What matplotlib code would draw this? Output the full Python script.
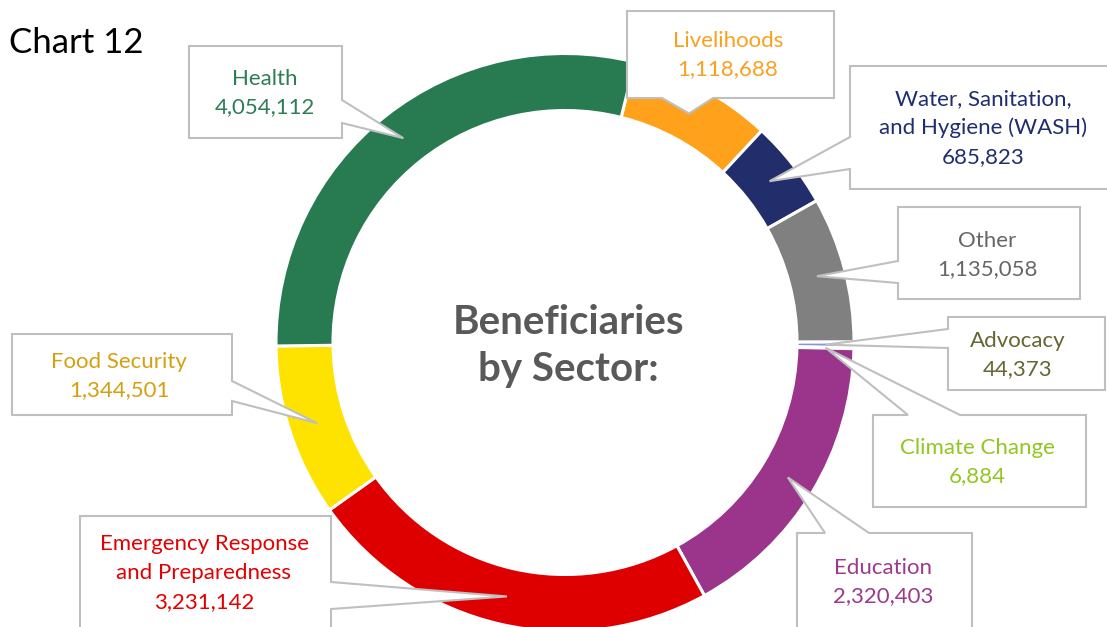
import matplotlib.pyplot as plt
from matplotlib.patches import Polygon
import numpy as np

plt.rcParams["font.family"] = ["Lato", "DejaVu Sans"]

W, H = 1107, 627

# data, in chart order (clockwise)
sectors = ["Livelihoods", "Water, Sanitation,\nand Hygiene (WASH)", "Other", "Advocacy",
           "Climate Change", "Education", "Emergency Response\nand Preparedness",
           "Food Security", "Health"]
beneficiaries = [1118688, 685823, 1135058, 44373, 6884, 2320403, 3231142, 1344501, 4054112]
slice_colors = ["#FFA11A", "#212E6B", "#808080", "#8496D8", "#C6E0B4",
                "#9B358B", "#DE0000", "#FFE300", "#287B51"]
label_colors = ["#F7A11E", "#1F2E6E", "#666666", "#666633", "#92C621",
                "#9B3A8D", "#E30000", "#D4A011", "#2E7D55"]

# callout boxes in pixels (y down): x0, x1, y0, y1, side of pointer, pointer base a, b
boxes = [
    (627, 834, 11, 98, "bottom", 662, 713),
    (850, 1115, 66, 189, "left", 137, 169),
    (898, 1080, 207, 299, "left", 261, 283),
    (948, 1105, 317, 390, "left", 329, 348),
    (873, 1086, 415, 507, "top", 908, 960),
    (797, 972, 533, 640, "top", 825, 869),
    (80, 331, 516, 640, "right", 582, 609),
    (12, 232, 334, 415, "right", 381, 401),
    (189, 342, 46, 138, "right", 100, 123),
]
text_pos = [(728, 55), (983, 128), (987, 255), (1018, 355), (977, 462),
            (883, 582), (204, 573), (119, 376), (265, 93)]

cx, cy = 565, 342.5
R_OUT, RING = 289, 57


def callout_points(x0, x1, y0, y1, side, a, b, tip):
    if side == "right":
        return [(x0, y0), (x1, y0), (x1, a), tip, (x1, b), (x1, y1), (x0, y1)]
    if side == "left":
        return [(x0, y0), (x1, y0), (x1, y1), (x0, y1), (x0, b), tip, (x0, a)]
    if side == "top":
        return [(x0, y0), (a, y0), tip, (b, y0), (x1, y0), (x1, y1), (x0, y1)]
    return [(x0, y0), (x1, y0), (x1, y1), (b, y1), tip, (a, y1), (x0, y1)]


fig = plt.figure(figsize=(W / 100, H / 100), dpi=100)
ax = fig.add_axes([0, 0, 1, 1])

wedges, _ = ax.pie(beneficiaries, colors=slice_colors, startangle=76, counterclock=False,
                   radius=R_OUT, center=(cx, H - cy),
                   wedgeprops=dict(width=RING, edgecolor="white", linewidth=2.2))

r_mid = R_OUT - RING / 2
for w, name, val, col, box, (tx, ty) in zip(wedges, sectors, beneficiaries,
                                            label_colors, boxes, text_pos):
    th = np.deg2rad((w.theta1 + w.theta2) / 2)
    tip = (cx + r_mid * np.cos(th), cy - r_mid * np.sin(th))
    pts = callout_points(*box, tip)
    pts = [(x, H - y) for x, y in pts]
    ax.add_patch(Polygon(pts, closed=True, facecolor="white", edgecolor="#BFBFBF",
                         linewidth=1.5, joinstyle="miter", zorder=3))
    ax.text(tx, H - ty, f"{name}\n{val:,}", ha="center", va="center", color=col,
            fontsize=16, linespacing=1.55, zorder=4)

ax.text(568, H - 346, "Beneficiaries\nby Sector:", ha="center", va="center",
        fontsize=29, fontweight="bold", color="#595959", linespacing=1.3)
ax.text(9, H - 53, "Chart 12", ha="left", va="baseline", fontsize=25, color="black")

ax.set_xlim(0, W)
ax.set_ylim(0, H)
ax.set_aspect("equal")
ax.axis("off")

fig.savefig("out.png", dpi=100)
